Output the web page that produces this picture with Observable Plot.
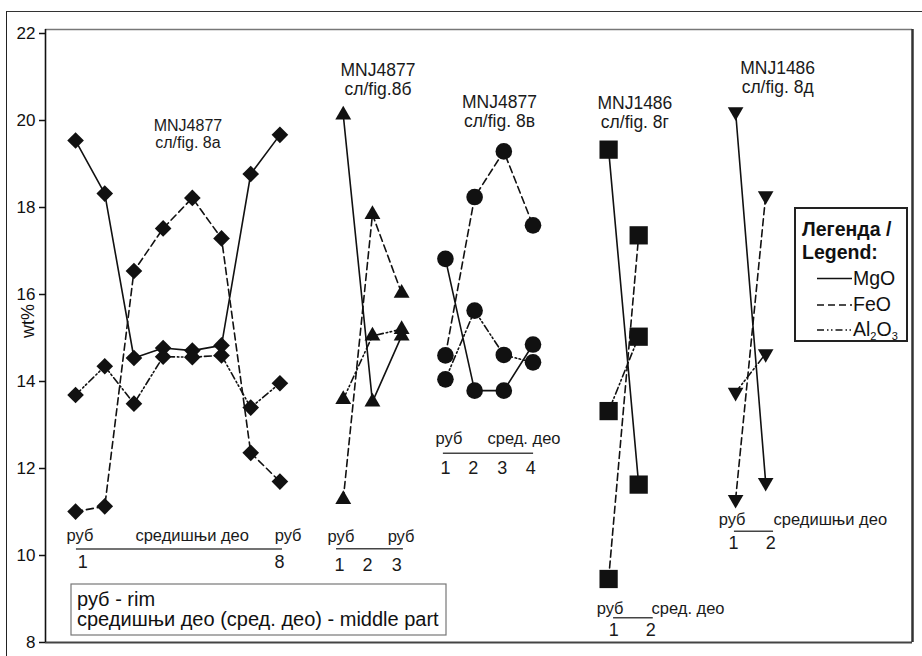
<!DOCTYPE html>
<html><head><meta charset="utf-8">
<script src="https://cdn.jsdelivr.net/npm/d3@7"></script>
<script src="https://cdn.jsdelivr.net/npm/@observablehq/plot@0.6"></script>
<style>
body{margin:0;background:#fff;font-family:"Liberation Sans",Arial,sans-serif;}
#wrap{position:relative;width:922px;height:656px;overflow:hidden;background:#fff;}
#outer{position:absolute;left:6px;top:11px;width:1000px;height:1000px;border-left:1.5px solid #222;border-top:1.5px solid #333;box-sizing:border-box;}
#chart{position:absolute;left:0;top:0;}
#overlay{position:absolute;left:0;top:0;}
</style></head>
<body><div id="wrap"><div id="outer"></div><div id="chart"></div><svg id="overlay" width="922" height="656"></svg></div>
<script>
// ---------------- data ----------------
const sampleNames = ["MNJ4877", "MNJ4877", "MNJ4877", "MNJ1486", "MNJ1486"];
const figLabels = ["сл/fig. 8а", "сл/fig.8б", "сл/fig. 8в", "сл/fig. 8г", "сл/fig. 8д"];
const oxides = ["MgO", "FeO", "Al2O3"];
const yTicks = [8, 10, 12, 14, 16, 18, 20, 22];

const mgo_8a   = [19.54, 18.32, 14.54, 14.77, 14.71, 14.83, 18.77, 19.67];
const feo_8a   = [11.01, 11.13, 16.54, 17.52, 18.22, 17.29, 12.36, 11.70];
const al2o3_8a = [13.69, 14.35, 13.49, 14.57, 14.56, 14.60, 13.40, 13.96];

const mgo_8b   = [20.13, 13.53, 15.05];
const feo_8b   = [11.29, 17.84, 16.03];
const al2o3_8b = [13.59, 15.05, 15.20];

const mgo_8v   = [16.82, 13.79, 13.79, 14.85];
const feo_8v   = [14.60, 18.24, 19.29, 17.59];
const al2o3_8v = [14.05, 15.63, 14.61, 14.44];

const mgo_8g   = [19.33, 11.63];
const feo_8g   = [9.46, 17.36];
const al2o3_8g = [13.32, 15.03];

const mgo_8d   = [20.20, 11.68];
const feo_8d   = [11.29, 18.27];
const al2o3_8d = [13.75, 14.64];

const rimLabel = "руб";
const midLong = "средишњи део";
const midShort = "сред. део";

// ---------------- layout (positions in the chart's own units) ----------------
const groupStart = [1.03, 10.2, 13.7, 19.29, 23.64];
const groupStep  = [1, 1, 1, 1.03, 1.03];
const series = [
  {MgO: mgo_8a, FeO: feo_8a, Al2O3: al2o3_8a},
  {MgO: mgo_8b, FeO: feo_8b, Al2O3: al2o3_8b},
  {MgO: mgo_8v, FeO: feo_8v, Al2O3: al2o3_8v},
  {MgO: mgo_8g, FeO: feo_8g, Al2O3: al2o3_8g},
  {MgO: mgo_8d, FeO: feo_8d, Al2O3: al2o3_8d}
];
const triangleDown = {draw(ctx, size) {
  const y = Math.sqrt(size / (Math.sqrt(3) * 3)), s = Math.sqrt(3);
  ctx.moveTo(0, 2 * y); ctx.lineTo(-s * y, -y); ctx.lineTo(s * y, -y); ctx.closePath();
}};
const symbols = ["diamond2", "triangle", "circle", "square", triangleDown];
const symbolR = [7.5, 5.9, 8.3, 10.3, 5.8];
const dash = {MgO: null, FeO: "7,4", Al2O3: "7,3,1.5,2.5,1.5,3"};

const rows = [];
series.forEach((s, gi) => oxides.forEach(ox => s[ox].forEach((v, i) =>
  rows.push({group: gi, oxide: ox, point: i + 1, x: groupStart[gi] + i * groupStep[gi], value: v}))));

const titles = sampleNames.map((n, i) => ({
  text: n + "\n" + figLabels[i],
  x: [4.88, 11.39, 15.55, 20.19, 25.08][i],
  y: [19.36, 20.575, 19.84, 19.82, 20.63][i],
  fs: [16, 17.5, 17.5, 17.5, 17.5][i]
}));
const rangeLabels = [
  {text: rimLabel, x: 0.72, y: 10.33}, {text: midLong, x: 3.08, y: 10.33}, {text: rimLabel, x: 7.85, y: 10.33},
  {text: rimLabel, x: 9.66, y: 10.30}, {text: rimLabel, x: 11.72, y: 10.30},
  {text: rimLabel, x: 13.36, y: 12.57}, {text: midShort, x: 15.14, y: 12.57},
  {text: rimLabel, x: 18.88, y: 8.66}, {text: midShort, x: 20.76, y: 8.66},
  {text: rimLabel, x: 23.06, y: 10.70}, {text: midLong, x: 24.94, y: 10.70}
];
const pointNumbers = [
  {text: "1", x: 1.28, y: 9.72}, {text: "8", x: 8.02, y: 9.72},
  {text: "1", x: 10.07, y: 9.64}, {text: "2", x: 11.03, y: 9.64}, {text: "3", x: 12.03, y: 9.64},
  {text: "1", x: 13.70, y: 11.87}, {text: "2", x: 14.65, y: 11.87}, {text: "3", x: 15.65, y: 11.87}, {text: "4", x: 16.62, y: 11.87},
  {text: "1", x: 19.47, y: 8.16}, {text: "2", x: 20.73, y: 8.16},
  {text: "1", x: 23.57, y: 10.14}, {text: "2", x: 24.84, y: 10.14}
];
const rangeLines = [
  {x1: 1.06, x2: 8.12, y: 10.15}, {x1: 9.97, x2: 12.26, y: 10.155}, {x1: 13.63, x2: 16.72, y: 12.35},
  {x1: 19.46, x2: 20.82, y: 8.57}, {x1: 23.6, x2: 24.94, y: 10.56}
];

const X0 = 0, X1 = 29.7, Y0 = 8, Y1 = 22.092;
const ink = "#111";

const chart = Plot.plot({
  width: 922, height: 656,
  marginLeft: 45, marginRight: 10, marginTop: 29, marginBottom: 14,
  style: {fontFamily: '"Liberation Sans", Arial, sans-serif', color: ink, background: "transparent", overflow: "visible"},
  x: {domain: [X0, X1], axis: null},
  y: {domain: [Y0, Y1]},
  marks: [
    Plot.ruleY([Y1], {stroke: "#777", strokeWidth: 1.5}),
    Plot.ruleY([Y0], {stroke: "#444", strokeWidth: 1.8}),
    Plot.ruleX([X1], {stroke: "#333", strokeWidth: 2.5}),
    Plot.ruleX([X0], {stroke: ink, strokeWidth: 1.6}),
    Plot.axisY({ticks: yTicks, tickSize: 6, tickPadding: 4, fontSize: 17, label: null, stroke: ink, strokeWidth: 1.5}),
    Plot.text(["wt%"], {frameAnchor: "left", dx: -17, dy: 2, rotate: -90, fontSize: 18, fill: ink}),
    ...oxides.map(ox => Plot.line(rows.filter(d => d.oxide === ox), {
      x: "x", y: "value", z: "group", stroke: ink, strokeWidth: 1.6, strokeDasharray: dash[ox]
    })),
    ...symbols.map((sym, gi) => Plot.dot(rows.filter(d => d.group === gi), {
      x: "x", y: "value", symbol: sym, r: symbolR[gi], fill: ink, stroke: "none"
    })),
    Plot.text(titles, {x: "x", y: "y", text: "text", fontSize: "fs", lineAnchor: "bottom", lineHeight: 1.1, textAnchor: "middle", fill: "#1a1a1a"}),
    Plot.text(rangeLabels, {x: "x", y: "y", text: "text", fontSize: 16.5, lineAnchor: "bottom", textAnchor: "start", fill: "#1a1a1a"}),
    Plot.text(pointNumbers, {x: "x", y: "y", text: "text", fontSize: 18, lineAnchor: "bottom", textAnchor: "middle", fill: "#1a1a1a"}),
    Plot.ruleY(rangeLines, {x1: "x1", x2: "x2", y: "y", stroke: "#444", strokeWidth: 1.5})
  ]
});
document.getElementById("chart").appendChild(chart);

// ---------------- legend & note ----------------
const ov = d3.select("#overlay").style("font-family", '"Liberation Sans", Arial, sans-serif');
const lg = ov.append("g");
lg.append("rect").attr("x", 795).attr("y", 208).attr("width", 112).attr("height", 133)
  .attr("fill", "#fff").attr("stroke", "#222").attr("stroke-width", 2);
lg.append("text").attr("x", 802).attr("y", 236).attr("font-size", 19.5).attr("font-weight", "bold").attr("fill", ink).text("Легенда /");
lg.append("text").attr("x", 802).attr("y", 259).attr("font-size", 19.5).attr("font-weight", "bold").attr("fill", ink).text("Legend:");
const legendRows = [{ox: "MgO", y: 284.5}, {ox: "FeO", y: 311}, {ox: "Al2O3", y: 336}];
legendRows.forEach(r => {
  lg.append("line").attr("x1", 817).attr("x2", 852).attr("y1", r.y - 6).attr("y2", r.y - 6)
    .attr("stroke", ink).attr("stroke-width", 1.6).attr("stroke-dasharray", dash[r.ox]);
  const t = lg.append("text").attr("x", 853).attr("y", r.y).attr("font-size", 19.5).attr("fill", ink);
  if (r.ox === "Al2O3") {
    t.append("tspan").text("Al");
    t.append("tspan").attr("font-size", 11).attr("dy", 4).text("2");
    t.append("tspan").attr("dy", -4).text("O");
    t.append("tspan").attr("font-size", 11).attr("dy", 4).text("3");
  } else t.text(r.ox);
});
const nt = ov.append("g");
nt.append("rect").attr("x", 71).attr("y", 584).attr("width", 375).attr("height", 51)
  .attr("fill", "#fff").attr("stroke", "#777").attr("stroke-width", 1.2);
nt.append("text").attr("x", 77).attr("y", 605.5).attr("font-size", 20).attr("fill", ink).text("руб - rim");
nt.append("text").attr("x", 77).attr("y", 626).attr("font-size", 20).attr("fill", ink).text("средишњи део (сред. део) - middle part");
</script>
</body></html>
